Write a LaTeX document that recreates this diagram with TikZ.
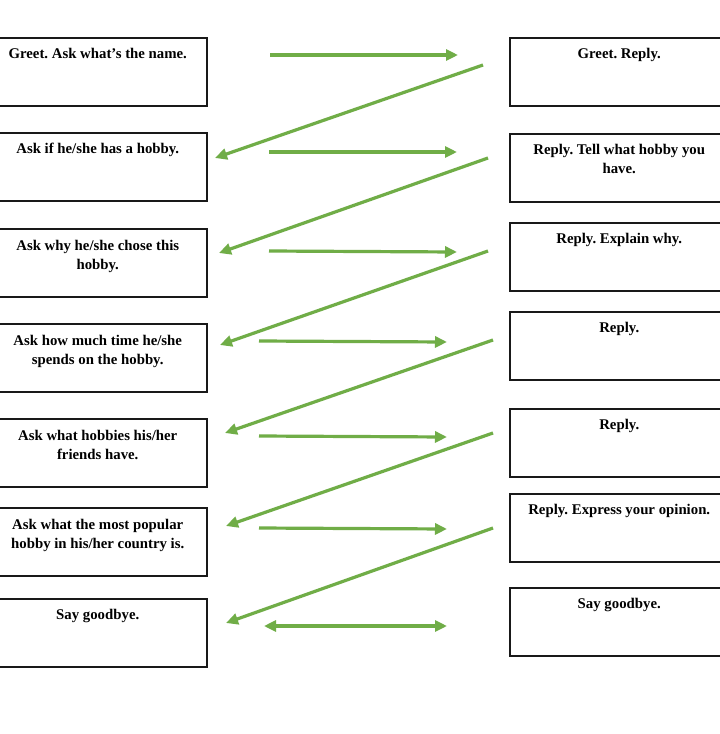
\documentclass[tikz,border=0pt]{standalone}
\usepackage{fontspec}
\setmainfont{Liberation Serif}
\usetikzlibrary{arrows.meta}
\definecolor{arrgreen}{RGB}{112,173,71}
\begin{document}
\begin{tikzpicture}[x=1pt,y=-1pt,
  boxL/.style={draw=black!90,line width=1.5pt,minimum width=210pt,minimum height=68pt,inner sep=0pt,anchor=north west},
  boxR/.style={draw=black!90,line width=1.5pt,minimum width=219pt,minimum height=68pt,inner sep=0pt,anchor=north west},
  lbl/.style={font=\frenchspacing\fontsize{14.8}{19}\selectfont\bfseries,align=center,inner sep=0pt,anchor=base},
  garrow/.style={draw=arrgreen,line width=3.2pt,-{Triangle[length=12pt,width=11pt]}},
  darrow/.style={draw=arrgreen,line width=3.2pt,{Triangle[length=12pt,width=11pt]}-{Triangle[length=12pt,width=11pt]}}
]
\useasboundingbox (0,0) rectangle (720,734);
\clip (0,0) rectangle (720,734);
\fill[white] (0,0) rectangle (720,734);
% left boxes
\node[boxL] (L1) at (-4,37) {};
\node[boxL] (L2) at (-4,132) {};
\node[boxL] (L3) at (-4,228) {};
\node[boxL] (L4) at (-4,323) {};
\node[boxL] (L5) at (-4,418) {};
\node[boxL] (L6) at (-4,507) {};
\node[boxL] (L7) at (-4,598) {};
% right boxes
\node[boxR] (R1) at (509,37) {};
\node[boxR] (R2) at (509,133) {};
\node[boxR] (R3) at (509,222) {};
\node[boxR] (R4) at (509,311) {};
\node[boxR] (R5) at (509,408) {};
\node[boxR] (R6) at (509,493) {};
\node[boxR] (R7) at (509,587) {};
% texts (base anchor = last line)
\node[lbl] (tL1) at ([xshift=-4pt,yshift=-21pt]L1.north) {Greet. Ask what’s the name.};
\node[lbl] (tL2) at ([xshift=-4pt,yshift=-21pt]L2.north) {Ask if he/she has a hobby.};
\node[lbl] (tL3) at ([xshift=-4pt,yshift=-41pt]L3.north) {Ask why he/she chose this\\hobby.};
\node[lbl] (tL4) at ([xshift=-4pt,yshift=-41pt]L4.north) {Ask how much time he/she\\spends on the hobby.};
\node[lbl] (tL5) at ([xshift=-4pt,yshift=-41pt]L5.north) {Ask what hobbies his/her\\friends have.};
\node[lbl] (tL6) at ([xshift=-4pt,yshift=-41pt]L6.north) {Ask what the most popular\\hobby in his/her country is.};
\node[lbl] (tL7) at ([xshift=-4pt,yshift=-21pt]L7.north) {Say goodbye.};
\node[lbl] (tR1) at ([yshift=-21pt]R1.north) {Greet. Reply.};
\node[lbl] (tR2) at ([yshift=-40pt]R2.north) {Reply. Tell what hobby you\\have.};
\node[lbl] (tR3) at ([yshift=-21pt]R3.north) {Reply. Explain why.};
\node[lbl] (tR4) at ([yshift=-21pt]R4.north) {Reply.};
\node[lbl] (tR5) at ([yshift=-21pt]R5.north) {Reply.};
\node[lbl] (tR6) at ([yshift=-21pt]R6.north) {Reply. Express your opinion.};
\node[lbl] (tR7) at ([yshift=-21pt]R7.north) {Say goodbye.};
% arrow end points
\coordinate (h1a) at (270,55);  \coordinate (h1b) at (458,55);
\coordinate (h2a) at (269,152); \coordinate (h2b) at (457,152);
\coordinate (h3a) at (269,251); \coordinate (h3b) at (457,252);
\coordinate (h4a) at (259,341); \coordinate (h4b) at (447,342);
\coordinate (h5a) at (259,436); \coordinate (h5b) at (447,437);
\coordinate (h6a) at (259,528); \coordinate (h6b) at (447,529);
\coordinate (h7a) at (264,626); \coordinate (h7b) at (447,626);
\coordinate (d1a) at (483,65);  \coordinate (d1b) at (215,158);
\coordinate (d2a) at (488,158); \coordinate (d2b) at (219,253);
\coordinate (d3a) at (488,251); \coordinate (d3b) at (220,345);
\coordinate (d4a) at (493,340); \coordinate (d4b) at (225,433);
\coordinate (d5a) at (493,433); \coordinate (d5b) at (226,526);
\coordinate (d6a) at (493,528); \coordinate (d6b) at (226,623);
% arrows
\draw[garrow] (h1a) -- (h1b);
\draw[garrow] (h2a) -- (h2b);
\draw[garrow] (h3a) -- (h3b);
\draw[garrow] (h4a) -- (h4b);
\draw[garrow] (h5a) -- (h5b);
\draw[garrow] (h6a) -- (h6b);
\draw[darrow] (h7a) -- (h7b);
\draw[garrow] (d1a) -- (d1b);
\draw[garrow] (d2a) -- (d2b);
\draw[garrow] (d3a) -- (d3b);
\draw[garrow] (d4a) -- (d4b);
\draw[garrow] (d5a) -- (d5b);
\draw[garrow] (d6a) -- (d6b);
\end{tikzpicture}
\end{document}
